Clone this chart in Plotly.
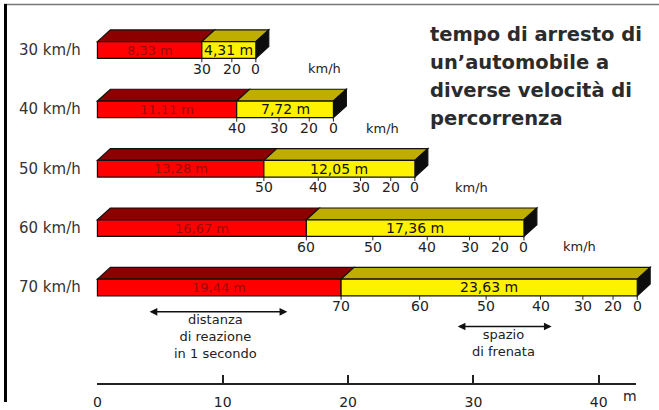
import plotly.graph_objects as go

# ---- data -------------------------------------------------------------
row_labels = ["30 km/h", "40 km/h", "50 km/h", "60 km/h", "70 km/h"]
speeds_kmh = [30, 40, 50, 60, 70]
reaction_m = [8.33, 11.11, 13.28, 16.67, 19.44]   # distance covered in 1 s
braking_m = [4.31, 7.72, 12.05, 17.36, 23.63]     # braking distance
speed_marks = [
    [30, 20, 0],
    [40, 30, 20, 0],
    [50, 40, 30, 20, 0],
    [60, 50, 40, 30, 20, 0],
    [70, 60, 50, 40, 30, 20, 0],
]
distance_ticks = [0, 10, 20, 30, 40]
title_lines = [
    "tempo di arresto di",
    "un\u2019automobile a",
    "diverse velocità di",
    "percorrenza",
]

# ---- geometry ---------------------------------------------------------
W, H = 659, 410
PX_PER_M = 12.61
PX_PER_ROW = 60.55
X0_PX = 94.0          # where 0 m sits
ROW0_PX = 51.0        # centre of the first bar
UNIT_GAP_M = [5.5, 3.9, 4.5, 4.4]   # spacing before the "km/h" unit on each scale

def m(px):
    return px / PX_PER_M

def r(px):
    return px / PX_PER_ROW

def py(px):
    return 1 - px / H

def row_y(px):
    return (px - ROW0_PX) / PX_PER_ROW

HALF_H = r(8.5)
DX = m(13)
DY = r(12)

FONT = "DejaVu Sans"
RED, RED_TOP = "#ff0000", "#8c0000"
YEL, YEL_TOP = "#fff200", "#bfae00"
SIDE = "#0d0d0d"
OUT = dict(color="#111111", width=1.2)

def fmt(v):
    return f"{v:.2f}".replace(".", ",") + " m"

def text(x, y, s, size=14, color="#222222", xref="x", yref="y", xanchor="center",
         yanchor="middle", **kw):
    return dict(x=x, y=y, xref=xref, yref=yref, text=s, showarrow=False,
                xanchor=xanchor, yanchor=yanchor,
                font=dict(family=FONT, size=size, color=color, **kw))

shapes, annotations = [], []

for i, (lab, v, rm, bm, marks) in enumerate(
        zip(row_labels, speeds_kmh, reaction_m, braking_m, speed_marks)):
    yc = i
    top, bot = yc - HALF_H, yc + HALF_H
    total = rm + bm

    # top faces and side face
    shapes.append(dict(type="path", xref="x", yref="y", fillcolor=RED_TOP, line=OUT,
                       path=f"M 0,{top} L {DX},{top-DY} L {rm+DX},{top-DY} L {rm},{top} Z"))
    shapes.append(dict(type="path", xref="x", yref="y", fillcolor=YEL_TOP, line=OUT,
                       path=f"M {rm},{top} L {rm+DX},{top-DY} L {total+DX},{top-DY} L {total},{top} Z"))
    shapes.append(dict(type="path", xref="x", yref="y", fillcolor=SIDE, line=OUT,
                       path=f"M {total},{top} L {total+DX},{top-DY} L {total+DX},{bot-DY} L {total},{bot} Z"))
    # front faces
    shapes.append(dict(type="rect", xref="x", yref="y", x0=0, x1=rm, y0=top, y1=bot,
                       fillcolor=RED, line=OUT))
    shapes.append(dict(type="rect", xref="x", yref="y", x0=rm, x1=total, y0=top, y1=bot,
                       fillcolor=YEL, line=OUT))

    annotations.append(text(rm / 2, yc, fmt(rm), size=13, color="#9a0a0a"))
    annotations.append(text(rm + bm / 2, yc, fmt(bm), size=14, color="#111111"))
    annotations.append(text(46 / W, yc, lab, size=15, color="#333333", xref="paper"))

    # speed scale along the braking part: braking distance grows with v^2
    for s in marks:
        pos = rm + bm * (1 - (s / v) ** 2)
        shapes.append(dict(type="line", xref="x", yref="y", x0=pos, x1=pos,
                           y0=bot, y1=bot + r(4), line=dict(color="#222222", width=1)))
        annotations.append(text(pos, yc + r(19), str(s)))
    if i < len(UNIT_GAP_M):
        annotations.append(text(total + UNIT_GAP_M[i], yc + r(19), "km/h", size=13))

# title block
for k, line in enumerate(title_lines):
    annotations.append(text(427 / W, py(35 + 28.7 * k), line, size=19.5, color="#2b2b2b",
                            xref="paper", yref="paper", xanchor="left", weight="bold"))

# double-headed arrows with captions
def arrow(xa, xb, ypx):
    yy = row_y(ypx)
    annotations.append(dict(x=xb, y=yy, ax=xa, ay=yy, xref="x", yref="y",
                            axref="x", ayref="y", text="", showarrow=True,
                            arrowside="end+start", arrowhead=2, arrowsize=1.1,
                            arrowwidth=1.4, arrowcolor="#111111", standoff=0, startstandoff=0))

def caption(xc, ypx, lines):
    annotations.append(text(xc, py(ypx), "<br>".join(lines), size=13, yref="paper"))

arrow(m(145 - X0_PX), m(285 - X0_PX), 318)
caption(m(213 - X0_PX), 343.5, ["distanza", "di reazione", "in 1 secondo"])

arrow(m(455 - X0_PX), m(551 - X0_PX), 333)
caption(m(503 - X0_PX), 350, ["spazio", "di frenata"])

# unit of the metre scale, level with its tick labels
annotations.append(text(m(630 - X0_PX), row_y(394), "m", yanchor="top"))

# frame lines
shapes.append(dict(type="line", xref="paper", yref="paper", x0=0, x1=1, y0=py(4.5), y1=py(4.5),
                   line=dict(color="#777777", width=1.5)))
shapes.append(dict(type="rect", xref="paper", yref="paper", x0=0, x1=3 / W, y0=0, y1=py(4),
                   fillcolor="#000000", line=dict(width=0)))

fig = go.Figure()
# invisible trace that carries the metre scale axis
fig.add_trace(go.Scatter(x=[0], y=[0], xaxis="x2", yaxis="y2", mode="markers",
                         marker=dict(opacity=0), hoverinfo="skip", showlegend=False))

axis_end_m = m(636 - X0_PX)
fig.update_layout(
    width=W, height=H,
    margin=dict(l=0, r=0, t=0, b=0),
    paper_bgcolor="white", plot_bgcolor="white",
    showlegend=False,
    xaxis=dict(range=[-m(X0_PX), m(W - X0_PX)], visible=False, domain=[0, 1]),
    yaxis=dict(range=[(H - ROW0_PX) / PX_PER_ROW, -ROW0_PX / PX_PER_ROW], visible=False,
               domain=[0, 1]),
    xaxis2=dict(domain=[X0_PX / W, 636 / W], range=[0, axis_end_m], anchor="y2",
                tickvals=distance_ticks, ticks="inside", ticklen=8, tickwidth=2,
                tickcolor="#222222", showline=True, linewidth=2, linecolor="#222222",
                showgrid=False, zeroline=False, ticklabelstandoff=5,
                tickfont=dict(family=FONT, size=14, color="#222222")),
    yaxis2=dict(domain=[py(391), py(391) + 0.002], anchor="x2", visible=False),
    shapes=shapes,
    annotations=annotations,
)

fig.write_html("out.html")
